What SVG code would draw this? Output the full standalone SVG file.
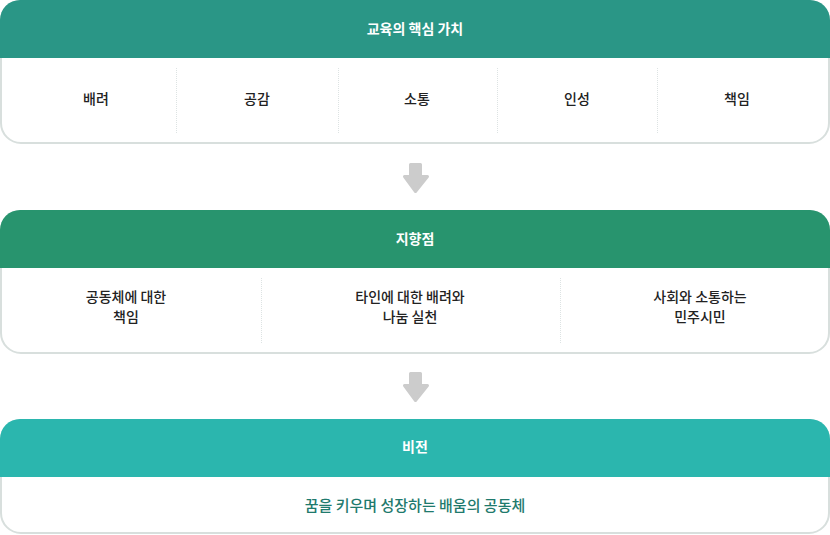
<svg xmlns="http://www.w3.org/2000/svg" width="830" height="535" viewBox="0 0 830 535">
<style>
.card{fill:#ffffff;stroke:#d8dfdd;stroke-width:2}
.title{font-family:"Noto Sans CJK KR","Noto Sans",sans-serif;font-size:14px;font-weight:700;fill:#ffffff;text-anchor:middle}
.item{font-family:"Noto Sans CJK KR","Noto Sans",sans-serif;font-size:14px;font-weight:500;fill:#222222;text-anchor:middle}
.vision{font-family:"Noto Sans CJK KR","Noto Sans",sans-serif;font-size:15px;font-weight:500;fill:#1f7a6d;text-anchor:middle}
.div{stroke:#dde3e3;stroke-width:1;stroke-dasharray:1 1}
.arrow{fill:#cccccc;stroke:#cccccc;stroke-width:3;stroke-linejoin:round}
</style>
<g id="core-values">
<rect class="card" x="1" y="1" width="828" height="142" rx="20"/>
<path d="M0 58 V20 A20 20 0 0 1 20 0 H810 A20 20 0 0 1 830 20 V58 Z" fill="#2a9686"/>
<text class="title" x="415" y="34">교육의 핵심 가치</text>
<line class="div" x1="176.5" y1="68" x2="176.5" y2="133"/>
<line class="div" x1="338.5" y1="68" x2="338.5" y2="133"/>
<line class="div" x1="497.5" y1="68" x2="497.5" y2="133"/>
<line class="div" x1="657.5" y1="68" x2="657.5" y2="133"/>
<text class="item" x="96" y="104">배려</text>
<text class="item" x="257" y="104">공감</text>
<text class="item" x="417" y="104">소통</text>
<text class="item" x="577" y="104">인성</text>
<text class="item" x="737" y="104">책임</text>
</g>
<g id="orientation">
<rect class="card" x="1" y="211" width="828" height="142" rx="20"/>
<path d="M0 268 V230 A20 20 0 0 1 20 210 H810 A20 20 0 0 1 830 230 V268 Z" fill="#28946e"/>
<text class="title" x="415" y="244">지향점</text>
<line class="div" x1="261.5" y1="278" x2="261.5" y2="343"/>
<line class="div" x1="560.5" y1="278" x2="560.5" y2="343"/>
<text class="item" x="126" y="302">공동체에 대한</text>
<text class="item" x="126" y="322">책임</text>
<text class="item" x="410" y="302">타인에 대한 배려와</text>
<text class="item" x="410" y="322">나눔 실천</text>
<text class="item" x="700" y="302">사회와 소통하는</text>
<text class="item" x="700" y="322">민주시민</text>
</g>
<g id="vision">
<rect class="card" x="1" y="420" width="828" height="113" rx="20"/>
<path d="M0 477 V439 A20 20 0 0 1 20 419 H810 A20 20 0 0 1 830 439 V477 Z" fill="#2bb6ae"/>
<text class="title" x="415" y="452">비전</text>
<text class="vision" x="415" y="511">꿈을 키우며 성장하는 배움의 공동체</text>
</g>
<g id="connectors">
<path class="arrow" d="M410.5 164.5 H420.5 V176.5 H427.5 L415.5 191.5 L404.5 176.5 H410.5 Z"/>
<path class="arrow" d="M410.5 373.5 H420.5 V385.5 H427.5 L415.5 400.5 L404.5 385.5 H410.5 Z"/>
</g>
</svg>
